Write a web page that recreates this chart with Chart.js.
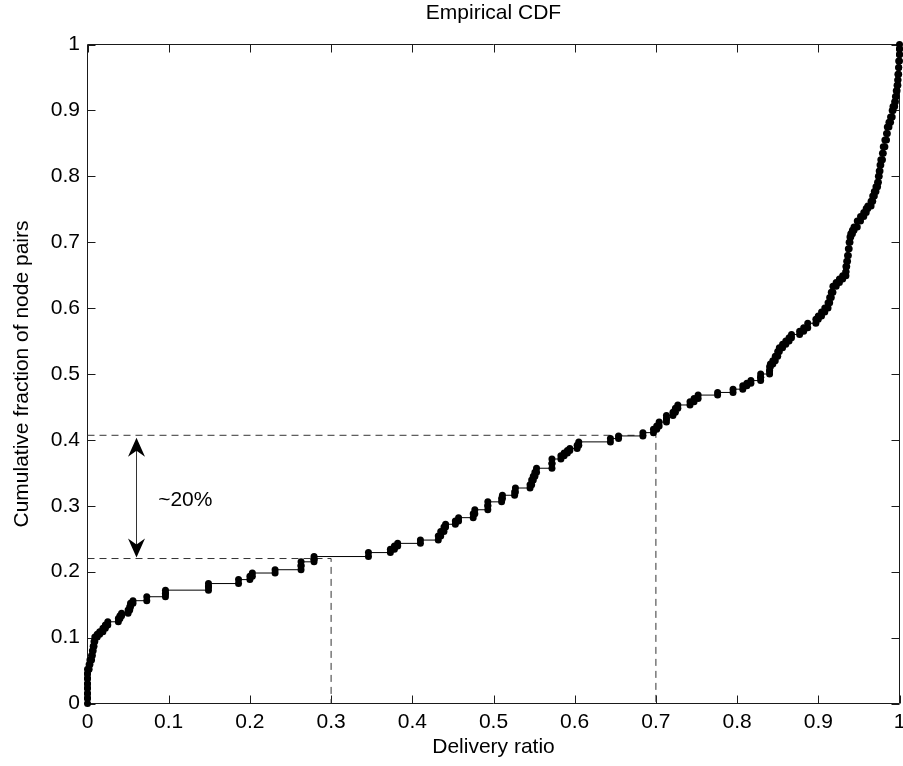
<!DOCTYPE html>
<html><head><meta charset="utf-8">
<script src="https://cdn.jsdelivr.net/npm/chart.js@4.4.0/dist/chart.umd.min.js"></script>
<style>html,body{margin:0;padding:0;background:#fff;overflow:hidden}canvas{display:block}</style>
</head><body>
<canvas id="c" width="903" height="766"></canvas>
<script>
const chartTitle = 'Empirical CDF';
const xAxisTitle = 'Delivery ratio';
const yAxisTitle = 'Cumulative fraction of node pairs';
const xTicks = [0,0.1,0.2,0.3,0.4,0.5,0.6,0.7,0.8,0.9,1];
const yTicks = [0,0.1,0.2,0.3,0.4,0.5,0.6,0.7,0.8,0.9,1];

// sample values (x of each step of the empirical CDF)
const deliveryRatio = [
0,0,0,0,0,0,0,
0.002,0.003,0.005,0.006,0.007,0.008,0.009,0.012,0.015,0.019,0.022,0.025,0.038,0.040,0.042,0.050,0.052,0.053,0.056,0.073,0.096,0.096,
0.149,0.149,0.186,0.200,0.203,0.231,0.263,0.263,0.279,0.279,0.346,0.373,0.378,0.382,0.410,0.432,0.435,0.439,0.441,0.453,0.457,
0.475,0.477,0.493,0.493,0.510,0.511,0.526,0.527,0.545,0.547,0.549,0.551,0.553,0.572,0.572,0.583,0.587,0.591,0.594,0.603,0.605,
0.644,0.654,0.684,0.697,0.701,0.704,0.713,0.713,0.721,0.724,0.727,0.742,0.747,0.752,0.776,0.795,0.807,0.812,0.817,0.829,0.829,
0.840,0.840,0.841,0.844,0.847,0.850,0.852,0.856,0.860,0.864,0.867,0.877,0.882,0.887,0.897,0.900,0.904,0.908,0.912,0.914,0.916,
0.918,0.922,0.926,0.930,0.934,0.934,0.935,0.936,0.937,0.938,0.939,0.940,0.942,0.944,0.948,0.952,0.956,0.959,0.961,0.965,0.967,
0.969,0.971,0.973,0.974,0.975,0.976,0.977,0.979,0.980,0.982,0.984,0.985,0.987,0.989,0.991,0.992,0.994,0.995,0.996,0.997,0.998,
0.998,0.999,0.999,1.0,1.0,1.0
];
// cumulative fraction reached at each step
const cumulativeFraction = [
0.008,0.015,0.023,0.030,0.038,0.045,0.052,
0.059,0.066,0.073,0.080,0.087,0.094,0.101,0.105,0.109,0.114,0.119,0.124,0.129,0.133,0.137,0.142,0.147,0.152,0.156,0.162,0.167,0.172,
0.177,0.182,0.188,0.193,0.198,0.203,0.209,0.215,0.219,0.223,0.229,0.234,0.239,0.243,0.248,0.254,0.261,0.268,0.272,0.277,0.282,
0.288,0.294,0.300,0.306,0.311,0.316,0.321,0.327,0.332,0.339,0.345,0.351,0.357,0.364,0.371,0.376,0.380,0.384,0.387,0.392,0.397,
0.402,0.406,0.411,0.416,0.421,0.427,0.432,0.437,0.442,0.448,0.453,0.458,0.463,0.468,0.472,0.477,0.482,0.486,0.490,0.495,0.500,
0.505,0.511,0.515,0.520,0.527,0.534,0.540,0.545,0.550,0.555,0.560,0.565,0.570,0.577,0.583,0.588,0.594,0.600,0.608,0.616,0.624,
0.633,0.639,0.644,0.649,0.655,0.663,0.671,0.680,0.690,0.700,0.708,0.713,0.718,0.723,0.732,0.739,0.745,0.751,0.755,0.762,0.770,
0.777,0.784,0.791,0.800,0.808,0.817,0.825,0.835,0.845,0.855,0.865,0.875,0.882,0.890,0.900,0.906,0.913,0.921,0.930,0.938,0.946,
0.955,0.965,0.975,0.985,0.993,1.0
];
const refRatios = [0.3, 0.7];
const refLevels = [0.22, 0.407];
const arrowRatio = 0.06;
const annotationText = '~20%';
const annotationPos = [0.087, 0.309];

// staircase vertices built from the samples
const stairs = [];
let prevLevel = 0;
for (let i = 0; i < deliveryRatio.length; i++) {
  stairs.push({x: deliveryRatio[i], y: prevLevel});
  stairs.push({x: deliveryRatio[i], y: cumulativeFraction[i]});
  prevLevel = cumulativeFraction[i];
}
const refSets = refRatios.map((r, i) => ({
  data: [{x: 0, y: refLevels[i]}, {x: r, y: refLevels[i]}, {x: r, y: 0}],
  borderColor: '#333', borderWidth: 1, borderDash: [7, 5], pointRadius: 0, showLine: true, order: 2, clip: false
}));

const FONT = 'Liberation Sans, Arial, Helvetica, sans-serif';
const FS = 21;
Chart.defaults.font.family = FONT;
Chart.defaults.font.size = FS;
Chart.defaults.color = '#000';
const fmt = v => String(+Number(v).toFixed(1));

const frame = {
  id: 'frame',
  beforeDatasetsDraw(chart) {
    const {ctx, chartArea: a, scales: {x, y}} = chart;
    ctx.save();
    ctx.strokeStyle = '#1a1a1a'; ctx.lineWidth = 1;
    ctx.beginPath();
    ctx.rect(a.left, a.top, a.right - a.left, a.bottom - a.top);
    const L = 8;
    xTicks.forEach(v => { const px = Math.round(x.getPixelForValue(v)) + 0.5;
      ctx.moveTo(px, a.bottom); ctx.lineTo(px, a.bottom - L);
      ctx.moveTo(px, a.top); ctx.lineTo(px, a.top + L); });
    yTicks.forEach(v => { const py = Math.round(y.getPixelForValue(v)) + 0.5;
      ctx.moveTo(a.left, py); ctx.lineTo(a.left + L, py);
      ctx.moveTo(a.right, py); ctx.lineTo(a.right - L, py); });
    ctx.stroke();
    ctx.restore();
  },
  afterDatasetsDraw(chart) {
    const {ctx, scales: {x, y}} = chart;
    const ax = Math.round(x.getPixelForValue(arrowRatio)) + 0.5;
    const yTop = y.getPixelForValue(refLevels[1]) + 2.5;
    const yBot = y.getPixelForValue(refLevels[0]) - 1;
    ctx.save();
    ctx.strokeStyle = '#333'; ctx.lineWidth = 1;
    ctx.beginPath(); ctx.moveTo(ax, yTop + 12); ctx.lineTo(ax, yBot - 12); ctx.stroke();
    ctx.fillStyle = '#000';
    const head = (tipY, dir) => {
      ctx.beginPath();
      ctx.moveTo(ax, tipY);
      ctx.lineTo(ax - 8.5, tipY + dir * 19);
      ctx.lineTo(ax, tipY + dir * 13);
      ctx.lineTo(ax + 8.5, tipY + dir * 19);
      ctx.closePath(); ctx.fill();
    };
    head(yTop, 1); head(yBot, -1);
    ctx.font = FS + 'px ' + FONT;
    ctx.textAlign = 'left'; ctx.textBaseline = 'middle';
    ctx.fillText(annotationText, x.getPixelForValue(annotationPos[0]), y.getPixelForValue(annotationPos[1]));
    ctx.restore();
  }
};

new Chart(document.getElementById('c'), {
  type: 'scatter',
  data: {
    datasets: [
      { data: stairs, showLine: true, borderColor: '#000', borderWidth: 1, pointRadius: 3.5,
        pointBackgroundColor: '#000', pointBorderWidth: 0, pointHoverRadius: 3.5, order: 1, clip: false },
      ...refSets
    ]
  },
  options: {
    responsive: false, animation: false, devicePixelRatio: 1,
    layout: { padding: { left: 0, right: -1, top: 0, bottom: 0 } },
    plugins: {
      legend: { display: false }, tooltip: { enabled: false },
      title: { display: true, text: chartTitle, fullSize: false, color: '#000',
        font: { size: FS, weight: 'normal', family: FONT }, padding: { top: 0.4, bottom: 18.9 } }
    },
    scales: {
      x: { type: 'linear', min: 0, max: 1,
        grid: { display: false, drawTicks: false, tickLength: 0 }, border: { display: false },
        ticks: { stepSize: 0.1, padding: 6, maxRotation: 0, autoSkip: false, color: '#000', callback: fmt },
        title: { display: true, text: xAxisTitle, color: '#000', font: { size: FS }, padding: { top: 0, bottom: 6.4 } },
        afterBuildTicks(s) { s.ticks = xTicks.map(v => ({value: v})); },
        afterFit(s) { s.height = 62.5; s.paddingLeft = 0; s.paddingRight = 0; }
      },
      y: { type: 'linear', min: 0, max: 1,
        grid: { display: false, drawTicks: false, tickLength: 0 }, border: { display: false },
        ticks: { stepSize: 0.1, padding: 7.5, color: '#000', callback: fmt },
        title: { display: true, text: yAxisTitle, color: '#000', font: { size: FS }, padding: { top: 9.4, bottom: 0 } },
        afterBuildTicks(s) { s.ticks = yTicks.map(v => ({value: v})); },
        afterFit(s) { s.width = 87.5; s.paddingTop = 0; s.paddingBottom = 0; }
      }
    }
  },
  plugins: [frame]
});
</script>
</body></html>
